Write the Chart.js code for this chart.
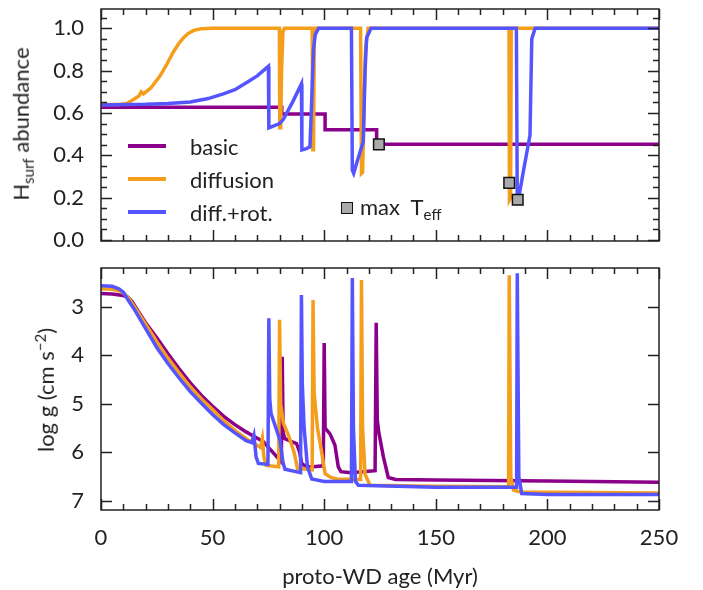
<!DOCTYPE html>
<html>
<head>
<meta charset="utf-8">
<script src="https://cdn.jsdelivr.net/npm/chart.js@4.4.1/dist/chart.umd.min.js"></script>
<style>
  body { margin: 0; background: #fff; }
  #wrap { position: relative; width: 703px; height: 590px; font-family: Lato, sans-serif; color: #222; }
  canvas { position: absolute; left: 0; }
  .ylab { position: absolute; transform: translate(-50%, -50%) rotate(-90deg); white-space: nowrap; font-size: 22px; }
  .leg { position: absolute; font-size: 22px; white-space: nowrap; transform: translateY(-50%); }
  .legline { position: absolute; height: 4px; width: 38px; transform: translateY(-50%); }
  sub, sup { font-size: 15px; }
</style>
</head>
<body>
<div id="wrap">
  <canvas id="topChart" width="703" height="250" style="top:0"></canvas>
  <canvas id="botChart" width="703" height="335" style="top:255px"></canvas>

  <div class="ylab" style="left:22px; top:124px">H<sub>surf</sub> abundance</div>
  <div class="ylab" style="left:45px; top:390px">log g (cm s<sup>−2</sup>)</div>

  <div class="legline" style="left:128px; top:146px; background:#8B008B"></div>
  <div class="leg" style="left:190px; top:146px">basic</div>
  <div class="legline" style="left:128px; top:179px; background:#F59E1B"></div>
  <div class="leg" style="left:190px; top:179px">diffusion</div>
  <div class="legline" style="left:128px; top:212px; background:#5555FF"></div>
  <div class="leg" style="left:190px; top:212px">diff.+rot.</div>

  <div style="position:absolute; left:341px; top:202px; width:10px; height:10px; background:#aaa; border:1.5px solid #111"></div>
  <div class="leg" style="left:360px; top:208px">max&nbsp; T<sub>eff</sub></div>
</div>

<script>
// top panel: surface H abundance vs age (Myr)
const hAgeBasic = [0, 81, 81, 100.4, 100.4, 123.5, 123.5, 250];
const hBasic    = [0.627, 0.627, 0.595, 0.595, 0.521, 0.521, 0.452, 0.452];

const hAgeDiff = [0, 8, 11.5, 14, 17, 18, 19, 22.5, 26.4, 29.5, 32.4, 35, 37, 39, 41.5, 45, 50,
                  79.9, 80.1, 80.5, 80.9, 81.5, 82.2, 94.6, 94.9, 95.2, 95.6,
                  116.3, 116.7, 117.2, 117.8, 118.5, 119.7, 182.8, 183.0, 183.5, 183.8, 250];
const hDiff    = [0.64, 0.64, 0.645, 0.66, 0.68, 0.70, 0.69, 0.72, 0.774, 0.83, 0.888, 0.93, 0.956, 0.975, 0.99, 0.998, 1.0,
                  1.0, 0.53, 0.53, 0.8, 0.98, 1.0, 1.0, 0.426, 0.426, 1.0,
                  1.0, 0.315, 0.32, 0.6, 0.9, 1.0, 1.0, 0.19, 0.2, 1.0, 1.0];

const hAgeRot = [0, 20, 30, 40, 48, 54.8, 60, 65.3, 70, 75, 75.2, 80, 81.7, 86, 89.8, 90.0, 92, 93.6,
                 94.2, 95.2, 96, 97.5, 112.2, 112.6, 113.2, 115.3, 117.5, 118.3, 119, 121,
                 186.1, 186.5, 187, 189.5, 192.2, 193, 194.5, 250];
const hRot    = [0.638, 0.641, 0.645, 0.652, 0.668, 0.69, 0.71, 0.744, 0.775, 0.82, 0.53, 0.55, 0.57, 0.655, 0.738, 0.426, 0.432, 0.44,
                 0.6, 0.9, 0.97, 1.0, 1.0, 0.33, 0.315, 0.39, 0.464, 0.8, 0.955, 1.0,
                 1.0, 0.19, 0.19, 0.34, 0.494, 0.95, 1.0, 1.0];

// max Teff markers
const teffAge = [124.5, 182.9, 186.7];
const teffH   = [0.452, 0.27, 0.19];

// bottom panel: log g vs age (Myr)
const gAgeBasic = [0, 5, 10, 12, 14, 17, 20, 25, 30, 35, 40, 45, 50, 55, 60, 65, 70, 72.7, 76, 78.7, 80.8,
                   81.2, 81.6, 82.4, 85.4, 87.6, 89, 89.9, 92, 95, 99.6, 100, 100.4, 102.6, 104.8, 106.3, 107.5,
                   112, 122.8, 123.3, 123.8, 124.5, 126.5, 128.7, 132, 150, 200, 250];
const gBasic    = [2.73, 2.74, 2.77, 2.8, 2.9, 3.12, 3.33, 3.64, 3.97, 4.28, 4.57, 4.83, 5.05, 5.26, 5.43, 5.58, 5.71, 5.78, 5.95, 6.09, 6.2,
                   4.03, 5.6, 5.72, 5.78, 5.82, 6.0, 6.23, 6.3, 6.3, 6.28, 3.75, 5.5, 5.62, 5.85, 6.3, 6.4,
                   6.42, 6.38, 3.33, 5.34, 5.6, 6.09, 6.52, 6.56, 6.57, 6.59, 6.62];

const gAgeDiff = [0, 5, 9, 12, 15, 20, 25, 30, 35, 40, 45, 50, 55, 60, 65, 70, 71.5, 72.3, 73, 74, 79.6,
                  80.0, 80.5, 81.7, 84, 86.5, 88, 94.6, 95.0, 95.5, 97, 98.5, 100.4, 103, 105.6,
                  116.3, 116.7, 117.2, 118.3, 120.5, 150, 182.6, 182.9, 183.6, 184.8, 188, 250];
const gDiff    = [2.63, 2.64, 2.68, 2.8, 3.0, 3.36, 3.72, 4.06, 4.36, 4.65, 4.9, 5.12, 5.35, 5.55, 5.72, 5.86, 5.9, 5.72, 6.1, 6.27, 6.3,
                  3.27, 5.0, 5.4, 5.65, 6.0, 6.33, 6.36, 2.86, 4.8, 5.5, 5.9, 6.44, 6.52, 6.55,
                  6.56, 2.45, 5.5, 6.45, 6.68, 6.7, 6.71, 2.35, 6.5, 6.78, 6.82, 6.84];

const gAgeRot = [0, 5, 8, 10, 12, 15, 20, 25, 30, 35, 40, 45, 50, 55, 60, 65, 67.5, 68.5, 69.5, 70.5, 74.8,
                 75.2, 75.6, 76.2, 78, 80.2, 81.5, 82.4, 89.4, 89.8, 90.2, 91, 92.5, 94.4, 100,
                 112.2, 112.6, 113.1, 114, 115.3, 150, 186.2, 186.5, 187.2, 188.5, 200, 250];
const gRot    = [2.57, 2.58, 2.63, 2.7, 2.85, 3.06, 3.45, 3.84, 4.17, 4.47, 4.75, 4.99, 5.22, 5.43, 5.6, 5.76, 5.8, 5.65, 6.1, 6.23, 6.25,
                 3.24, 4.9, 5.2, 5.45, 5.75, 6.2, 6.35, 6.42, 2.76, 4.6, 5.5, 6.3, 6.55, 6.6,
                 6.6, 2.41, 5.5, 6.6, 6.68, 6.72, 6.72, 2.31, 6.5, 6.85, 6.87, 6.87];

const xTicks = [0, 50, 100, 150, 200, 250];
const hTicks = [0, 0.2, 0.4, 0.6, 0.8, 1.0];
const gTicks = [3, 4, 5, 6, 7];

const cBasic = '#8B008B';
const cDiff = '#F59E1B';
const cRot = '#5555FF';

function pts(xs, ys) {
    return xs.map((x, i) => ({ x: x, y: ys[i] }));
}

function line(label, xs, ys, color, order) {
    return {
        label: label,
        data: pts(xs, ys),
        borderColor: color,
        borderWidth: 3.5,
        pointRadius: 0,
        tension: 0,
        fill: false,
        order: order
    };
}

// no extra room for labels that hang over the plot edges
function fixY(s) {
    s.width = 101;
    s.paddingTop = 0;
    s.paddingBottom = 0;
}
function fixX(s) {
    s.paddingLeft = 0;
    s.paddingRight = 0;
}

// box and inward ticks on all four sides
const frame = {
    id: 'frame',
    afterDraw(chart, args, opts) {
        const { ctx, chartArea: a, scales } = chart;
        const sx = scales.x, sy = scales.y;
        ctx.save();
        ctx.strokeStyle = '#222';
        ctx.lineWidth = 1.5;
        ctx.beginPath();
        const isMajor = (v, m) => Math.abs(v / m - Math.round(v / m)) < 1e-6;
        for (let v = 0; v <= sx.max + 1e-9; v += opts.xMinor) {
            const px = Math.round(sx.getPixelForValue(v)) + 0.5;
            const len = isMajor(v, opts.xMajor) ? 11 : 6;
            ctx.moveTo(px, a.bottom); ctx.lineTo(px, a.bottom - len);
            ctx.moveTo(px, a.top); ctx.lineTo(px, a.top + len);
        }
        const y0 = Math.ceil(sy.min / opts.yMinor - 1e-9) * opts.yMinor;
        for (let v = y0; v <= sy.max + 1e-9; v += opts.yMinor) {
            const py = Math.round(sy.getPixelForValue(v)) + 0.5;
            const len = isMajor(v, opts.yMajor) ? 11 : 6;
            ctx.moveTo(a.left, py); ctx.lineTo(a.left + len, py);
            ctx.moveTo(a.right, py); ctx.lineTo(a.right - len, py);
        }
        ctx.stroke();
        ctx.strokeRect(a.left, a.top, a.right - a.left, a.bottom - a.top);
        ctx.restore();
    }
};

Chart.defaults.font.family = 'Lato, sans-serif';
Chart.defaults.font.size = 22;
Chart.defaults.color = '#222';

new Chart(document.getElementById('topChart'), {
    type: 'line',
    data: {
        datasets: [
            {
                label: 'max Teff',
                type: 'scatter',
                data: pts(teffAge, teffH),
                pointStyle: 'rect',
                pointRadius: 7.5,
                backgroundColor: '#aaaaaa',
                borderColor: '#111',
                borderWidth: 1.5,
                order: 0
            },
            line('diff.+rot.', hAgeRot, hRot, cRot, 1),
            line('diffusion', hAgeDiff, hDiff, cDiff, 2),
            line('basic', hAgeBasic, hBasic, cBasic, 3)
        ]
    },
    options: {
        responsive: false,
        animation: false,
        layout: { padding: { top: 2, right: 44, bottom: 7, left: 0 } },
        plugins: {
            legend: { display: false },
            tooltip: { enabled: false },
            frame: { xMinor: 10, xMajor: 50, yMinor: 0.05, yMajor: 0.2 }
        },
        scales: {
            x: { type: 'linear', min: 0, max: 250, display: false, afterFit: fixX },
            y: {
                min: -0.0045,
                max: 1.091,
                afterFit: fixY,
                afterBuildTicks: (s) => { s.ticks = hTicks.map(v => ({ value: v })); },
                grid: { display: false, drawTicks: false },
                border: { display: false },
                ticks: { padding: 17, callback: (v) => v.toFixed(1) }
            }
        }
    },
    plugins: [frame]
});

new Chart(document.getElementById('botChart'), {
    type: 'line',
    data: {
        datasets: [
            line('diff.+rot.', gAgeRot, gRot, cRot, 1),
            line('diffusion', gAgeDiff, gDiff, cDiff, 2),
            line('basic', gAgeBasic, gBasic, cBasic, 3)
        ]
    },
    options: {
        responsive: false,
        animation: false,
        layout: { padding: { top: 13, right: 44, bottom: 0, left: 0 } },
        plugins: {
            legend: { display: false },
            tooltip: { enabled: false },
            frame: { xMinor: 10, xMajor: 50, yMinor: 1, yMajor: 1 }
        },
        scales: {
            x: {
                type: 'linear',
                min: 0,
                max: 250,
                afterFit: (s) => { fixX(s); s.height = 80; },
                afterBuildTicks: (s) => { s.ticks = xTicks.map(v => ({ value: v })); },
                grid: { display: false, drawTicks: false },
                border: { display: false },
                ticks: { padding: 15, maxRotation: 0 },
                title: { display: true, text: 'proto-WD age (Myr)', padding: { top: 0, bottom: 0 } }
            },
            y: {
                reverse: true,
                min: 2.202,
                max: 7.19,
                afterFit: fixY,
                afterBuildTicks: (s) => { s.ticks = gTicks.map(v => ({ value: v })); },
                grid: { display: false, drawTicks: false },
                border: { display: false },
                ticks: { padding: 17 }
            }
        }
    },
    plugins: [frame]
});
</script>
</body>
</html>
